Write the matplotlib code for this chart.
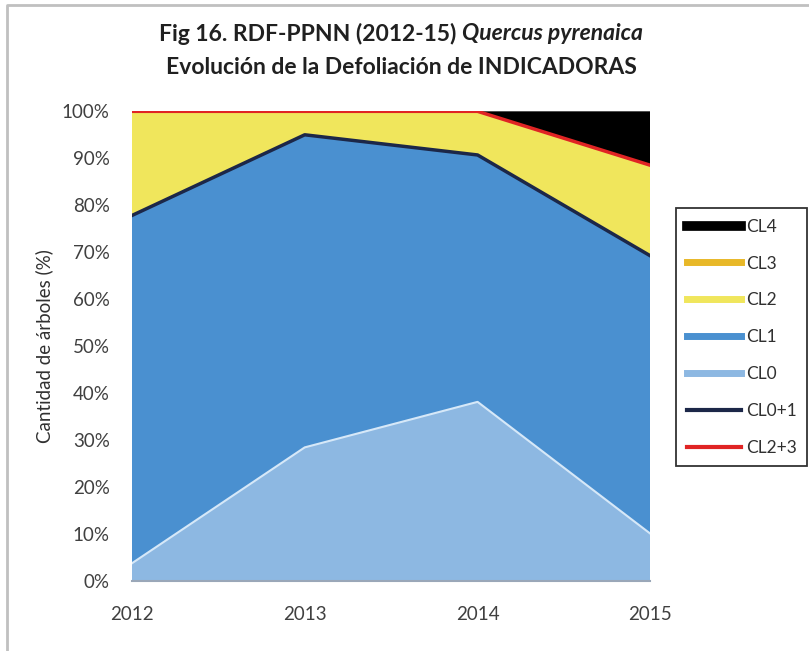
import matplotlib.pyplot as plt
from matplotlib.lines import Line2D
from matplotlib.ticker import PercentFormatter

plt.rcParams['font.family'] = ['Lato', 'DejaVu Sans']

years = [2012, 2013, 2014, 2015]
cl0 = [3.7, 28.4, 38.1, 10.0]
cl1 = [74.1, 66.6, 52.6, 59.2]
cl2 = [22.2, 5.0, 9.3, 19.3]
cl3 = [0.0, 0.0, 0.0, 0.0]
cl4 = [0.0, 0.0, 0.0, 11.5]

col0 = '#8db8e2'
col1 = '#4a90d0'
col2 = '#f0e65c'
col3 = '#e8b828'
col4 = '#000000'
col01 = '#1c2748'
col23 = '#e02424'

# cumulative tops for the summary lines
cl01 = [a + b for a, b in zip(cl0, cl1)]
cl23 = [a + b + c for a, b, c in zip(cl01, cl2, cl3)]

fig = plt.figure(figsize=(8.09, 6.51), dpi=100)
ax = fig.add_axes([0.163, 0.108, 0.641, 0.721])

ax.stackplot(years, cl0, cl1, cl2, cl3, cl4,
             colors=[col0, col1, col2, col3, col4], lw=0)
ax.plot(years, cl0, color='#d6e8f8', lw=1.5)
ax.plot(years, cl01, color=col01, lw=2.5)
ax.plot(years, cl23, color=col23, lw=2.5)

ax.set_xlim(2012, 2015)
ax.set_ylim(0, 100)
ax.set_xticks(years)
ax.set_yticks(range(0, 101, 10))
ax.yaxis.set_major_formatter(PercentFormatter(decimals=0))
ax.tick_params(length=0, labelsize=13.5, colors='#404040')
ax.tick_params(axis='y', pad=16)
ax.tick_params(axis='x', pad=18)
for s in ['top', 'right', 'left']:
    ax.spines[s].set_visible(False)
ax.spines['bottom'].set_color('#9aa7b8')
ax.spines['bottom'].set_linewidth(1.5)
ax.set_ylabel('Cantidad de árboles (%)', fontsize=13.5, color='#303030', labelpad=6)

# title line 1: regular bold part + italic species name, centred as a whole
fig.canvas.draw()
r = fig.canvas.get_renderer()
t1 = fig.text(0, 0.948, 'Fig 16. RDF-PPNN (2012-15) ', ha='left', va='center',
              fontsize=16.5, fontweight='bold', color='#202020')
t2 = fig.text(0, 0.948, 'Quercus pyrenaica', ha='left', va='center',
              fontsize=16.5, fontweight='bold', fontstyle='italic', color='#202020')
w1 = t1.get_window_extent(r).width / fig.bbox.width
w2 = t2.get_window_extent(r).width / fig.bbox.width
x0 = 0.496 - (w1 + w2) / 2
t1.set_x(x0)
t2.set_x(x0 + w1)
fig.text(0.496, 0.897, 'Evolución de la Defoliación de INDICADORAS', ha='center',
         va='center', fontsize=16.5, fontweight='bold', color='#202020')

handles = [
    Line2D([], [], color=col4, lw=7),
    Line2D([], [], color=col3, lw=5),
    Line2D([], [], color=col2, lw=5),
    Line2D([], [], color=col1, lw=5),
    Line2D([], [], color=col0, lw=5),
    Line2D([], [], color=col01, lw=3),
    Line2D([], [], color=col23, lw=3),
]
labels = ['CL4', 'CL3', 'CL2', 'CL1', 'CL0', 'CL0+1', 'CL2+3']
leg = fig.legend(handles, labels, loc='upper left', bbox_to_anchor=(0.836, 0.680),
                 frameon=True, fancybox=False, fontsize=12.5, labelspacing=1.2,
                 handlelength=3.1, handletextpad=0.3, borderpad=0.6, borderaxespad=0)
leg.get_frame().set_edgecolor('black')
leg.get_frame().set_linewidth(1.3)
for t in leg.get_texts():
    t.set_color('#303030')

# outer chart border (top and left edges)
fig.add_artist(Line2D([0.009, 0.009, 1.0], [0.0, 0.992, 0.992], transform=fig.transFigure,
                      color='#c0c0c0', lw=2))

fig.savefig('out.png', dpi=100)
